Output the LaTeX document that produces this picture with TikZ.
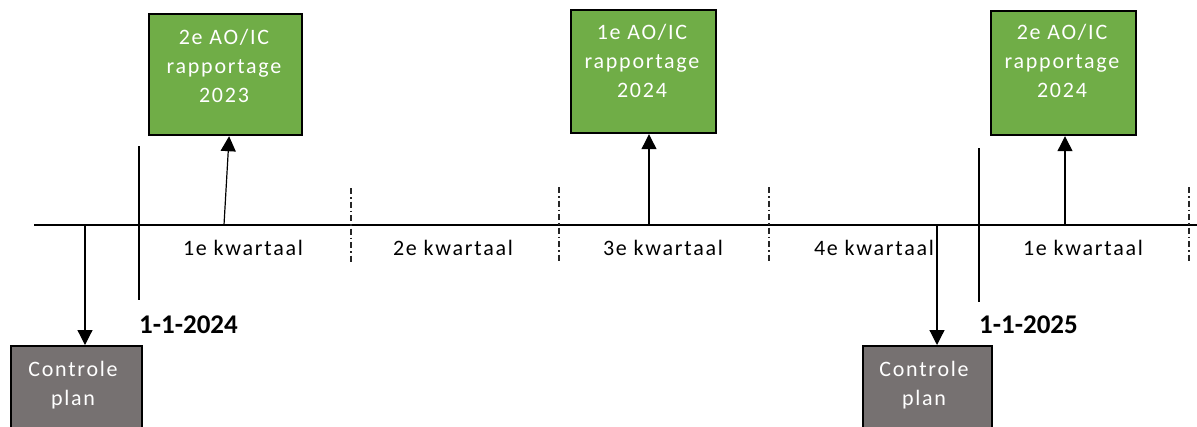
\documentclass[tikz,border=0pt]{standalone}
\usepackage{fontspec}
\setmainfont{Carlito}[LetterSpace=8]
\newfontfamily\datefont{Carlito}
\usetikzlibrary{arrows.meta,calc}
\definecolor{boxgreen}{HTML}{70AD47}
\definecolor{boxgray}{HTML}{767171}
\begin{document}
\begin{tikzpicture}[x=1pt,y=-1pt,
 greenbox/.style={draw=black,line width=2.2pt,fill=boxgreen,inner sep=0,anchor=north west},
 graybox/.style={draw=black,line width=2.2pt,fill=boxgray,inner sep=0,anchor=north west},
 boxtext/.style={text=white,align=center,font=\fontsize{22}{29}\selectfont,inner sep=0,anchor=base},
 qlabel/.style={font=\fontsize{22}{26}\selectfont,inner sep=0,anchor=base},
 datelabel/.style={font=\datefont\fontsize{27}{30}\selectfont\bfseries,inner sep=0,anchor=base west},
 timeline/.style={line width=1.2pt},
 yearline/.style={line width=1.2pt},
 qline/.style={line width=1.2pt,draw=black!85,dash pattern=on 6pt off 3pt on 1.5pt off 3pt},
 arr/.style={line width=1.2pt,-{Triangle[width=15pt,length=15pt]}}]
\clip (0,0) rectangle (1197,426);
% boxes
\node[greenbox,minimum width=153pt,minimum height=121pt] (g1) at (148,13) {};
\node[greenbox,minimum width=145pt,minimum height=123pt] (g2) at (570,9) {};
\node[greenbox,minimum width=145pt,minimum height=124pt] (g3) at (990,10) {};
\node[graybox,minimum width=131pt,minimum height=100pt] (c1) at (10,345) {};
\node[graybox,minimum width=129pt,minimum height=100pt] (c2) at (862,345) {};
\node[boxtext] (g1t) at (224,102) {2e AO/IC\\rapportage\\2023};
\node[boxtext] (g2t) at (642,97) {1e AO/IC\\rapportage\\2024};
\node[boxtext] (g3t) at (1062,97) {2e AO/IC\\rapportage\\2024};
\node[boxtext] (c1t) at (73,405) {Controle\\plan};
\node[boxtext] (c2t) at (924,405) {Controle\\plan};
% timeline
\coordinate (tl0) at (34,225);
\coordinate (tl1) at (1197,225);
\draw[timeline] (tl0) -- (tl1);
% year lines
\coordinate (y1a) at (139,146); \coordinate (y1b) at (139,300);
\coordinate (y2a) at (979,148); \coordinate (y2b) at (979,302);
\draw[yearline] (y1a) -- (y1b);
\draw[yearline] (y2a) -- (y2b);
% quarter separators
\coordinate (q1a) at (351,188); \coordinate (q1b) at (351,264);
\coordinate (q2a) at (559,187); \coordinate (q2b) at (559,262);
\coordinate (q3a) at (769,187); \coordinate (q3b) at (769,262);
\coordinate (q4a) at (1189,187); \coordinate (q4b) at (1189,262);
\draw[qline] (q1a) -- (q1b);
\draw[qline] (q2a) -- (q2b);
\draw[qline] (q3a) -- (q3b);
\draw[qline] (q4a) -- (q4b);
% arrows
\coordinate (a1) at (224,225);
\coordinate (a2) at (649,225);
\coordinate (a3) at (1065,225);
\coordinate (d1) at (85,225);
\coordinate (d2) at (937,225);
\draw[arr] (a1) -- ($(g1.south)+(3.5,0)$);
\draw[arr] (a2) -- (g2.south -| a2);
\draw[arr] (a3) -- (g3.south -| a3);
\draw[arr] (d1) -- (c1.north -| d1);
\draw[arr] (d2) -- (c2.north -| d2);
% labels
\node[qlabel] (k1) at (243,255) {1e kwartaal};
\node[qlabel] (k2) at (453,255) {2e kwartaal};
\node[qlabel] (k3) at (663,255) {3e kwartaal};
\node[qlabel] (k4) at (874,255) {4e kwartaal};
\node[qlabel] (k5) at (1083,255) {1e kwartaal};
\node[datelabel] (dt1) at (139,333) {1-1-2024};
\node[datelabel] (dt2) at (979,333) {1-1-2025};
\end{tikzpicture}
\end{document}
